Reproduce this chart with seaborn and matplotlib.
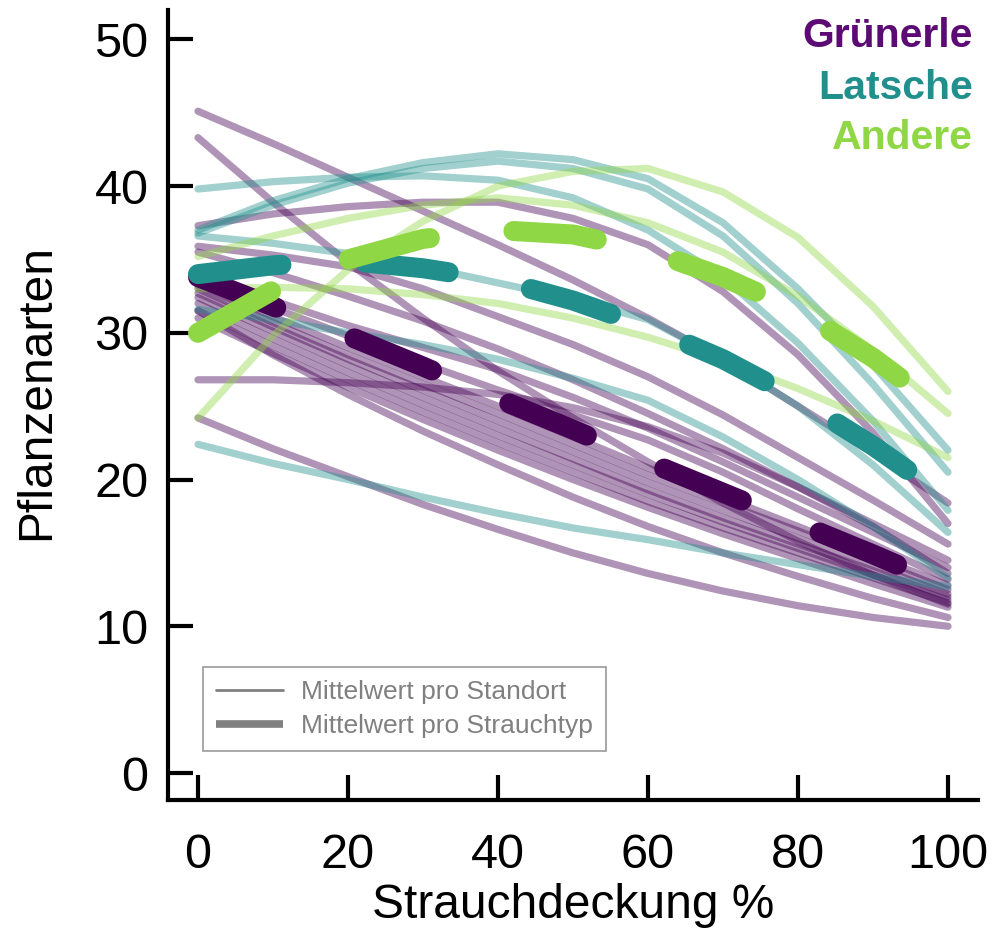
import matplotlib
matplotlib.use("Agg")
import matplotlib.pyplot as plt
import seaborn as sns
import pandas as pd
from matplotlib.lines import Line2D

# ---------------- data ----------------
x_points = [0, 10, 20, 30, 40, 50, 60, 70, 80, 90, 100]
types = ["Grünerle", "Latsche", "Andere"]

# per-site curves (values read at x_points)
gruenerle_sites = [
    [45.1, 42.9, 40.6, 38.3, 36.0, 33.6, 31.0, 28.2, 25.0, 21.8, 18.4],
    [43.3, 38.9, 34.8, 31.0, 27.4, 24.2, 21.2, 18.4, 15.8, 13.5, 11.5],
    [37.3, 38.1, 38.6, 38.9, 38.9, 37.8, 36.0, 32.8, 28.5, 23.2, 17.0],
    [35.9, 35.3, 34.5, 33.0, 31.1, 29.2, 27.0, 24.4, 21.5, 18.6, 15.6],
    [35.5, 34.1, 32.5, 30.8, 28.9, 26.8, 24.5, 22.1, 19.5, 17.0, 14.5],
    [33.8, 32.2, 30.5, 29.0, 27.5, 25.6, 23.5, 21.2, 18.8, 16.4, 14.0],
    [33.5, 31.7, 29.8, 27.9, 26.1, 24.4, 22.7, 20.5, 18.0, 15.6, 13.2],
    [33.2, 31.1, 29.0, 27.0, 25.0, 22.9, 20.8, 18.8, 16.8, 14.8, 12.8],
    [33.0, 30.7, 28.5, 26.5, 24.5, 22.4, 20.3, 18.4, 16.5, 14.5, 12.5],
    [32.7, 30.4, 28.2, 26.1, 24.0, 21.9, 19.8, 17.9, 16.0, 14.1, 12.2],
    [32.4, 30.1, 27.8, 25.6, 23.5, 21.4, 19.3, 17.4, 15.6, 13.8, 12.0],
    [32.0, 29.6, 27.3, 25.1, 23.0, 21.0, 19.0, 17.1, 15.3, 13.5, 11.8],
    [31.5, 29.1, 26.8, 24.6, 22.5, 20.5, 18.5, 16.7, 15.0, 13.3, 11.6],
    [31.0, 28.6, 26.3, 24.1, 22.0, 20.0, 18.1, 16.3, 14.6, 12.9, 11.3],
    [26.8, 26.8, 26.6, 26.3, 25.8, 24.9, 23.6, 21.8, 19.5, 16.8, 13.6],
    [24.2, 22.1, 20.2, 18.3, 16.6, 15.0, 13.6, 12.4, 11.4, 10.6, 10.0],
    [31.5, 28.5, 25.8, 23.3, 21.0, 18.8, 16.8, 15.0, 13.4, 11.9, 10.6],
]
latsche_sites = [
    [39.8, 40.3, 40.6, 40.7, 40.4, 39.2, 37.0, 33.8, 29.3, 24.0, 17.9],
    [37.0, 39.0, 40.5, 41.6, 42.2, 41.8, 40.5, 37.5, 33.0, 27.8, 22.0],
    [36.8, 38.7, 40.2, 41.2, 41.7, 41.2, 39.8, 36.6, 32.0, 26.5, 20.5],
    [36.6, 36.1, 35.4, 34.5, 33.4, 32.3, 30.9, 28.2, 25.0, 21.0, 16.4],
    [31.6, 30.9, 30.0, 29.2, 28.2, 26.9, 25.4, 22.9, 20.0, 16.8, 13.3],
    [22.4, 21.1, 20.0, 18.8, 17.7, 16.7, 15.9, 15.0, 14.2, 13.4, 12.7],
]
andere_sites = [
    [24.2, 29.8, 34.3, 37.6, 40.0, 41.0, 41.2, 39.6, 36.5, 31.8, 26.0],
    [35.2, 36.6, 37.8, 38.7, 39.2, 38.7, 37.5, 35.5, 32.5, 28.8, 24.5],
    [33.0, 33.1, 33.0, 32.6, 32.0, 31.0, 29.7, 28.1, 26.2, 24.0, 21.5],
]

# mean per shrub type
mean_gruenerle = [33.8, 31.8, 29.8, 27.7, 25.5, 23.4, 21.2, 19.1, 17.0, 14.9, 12.7]
mean_latsche = [34.0, 34.6, 34.9, 34.4, 33.6, 32.2, 30.4, 28.2, 25.5, 22.3, 18.7]
mean_andere = [30.0, 32.9, 35.0, 36.4, 37.0, 36.7, 35.6, 33.8, 31.5, 28.3, 24.5]

x_ticks = [0, 20, 40, 60, 80, 100]
y_ticks = [0, 10, 20, 30, 40, 50]
legend_labels = ["Mittelwert pro Standort", "Mittelwert pro Strauchtyp"]

# ---------------- styles ----------------
line_colors = {"Grünerle": "#440154", "Latsche": "#21908C", "Andere": "#8FD744"}
label_colors = {"Grünerle": "#5C0A74", "Latsche": "#21908C", "Andere": "#8FD744"}

sns.set_style("ticks")
plt.rcParams["font.family"] = ["Liberation Sans", "DejaVu Sans"]

# ---------------- build tables ----------------
rows = []
for t, sites in zip(types, [gruenerle_sites, latsche_sites, andere_sites]):
    for i, vals in enumerate(sites):
        for xv, yv in zip(x_points, vals):
            rows.append({"type": t, "site": f"{t}_{i}", "x": xv, "y": yv})
df_sites = pd.DataFrame(rows)

rows = []
for t, vals in zip(types, [mean_gruenerle, mean_latsche, mean_andere]):
    for xv, yv in zip(x_points, vals):
        rows.append({"type": t, "x": xv, "y": yv})
df_means = pd.DataFrame(rows)

# ---------------- figure ----------------
fig = plt.figure(figsize=(9.98, 9.34), dpi=100)
ax = fig.add_axes([168 / 998, 1 - 800 / 934, (978 - 168) / 998, (800 - 10) / 934])

sns.lineplot(data=df_sites, x="x", y="y", hue="type", hue_order=types,
             units="site", estimator=None, palette=line_colors,
             lw=5.2, alpha=0.42, legend=False, ax=ax,
             solid_capstyle="round", solid_joinstyle="round")

sns.lineplot(data=df_means, x="x", y="y", hue="type", hue_order=types,
             estimator=None, palette=line_colors,
             lw=14.4, linestyle=(0, (4.2, 4.2)), legend=False, ax=ax,
             dash_capstyle="round", dash_joinstyle="round")

ax.set_xlim(-4, 104)
ax.set_ylim(-1.84, 52.0)
ax.set_xticks(x_ticks)
ax.set_yticks(y_ticks)

for s in ["top", "right"]:
    ax.spines[s].set_visible(False)
for s in ["left", "bottom"]:
    ax.spines[s].set_linewidth(3)
    ax.spines[s].set_color("black")
    ax.spines[s].set_capstyle("projecting")

ax.tick_params(axis="both", direction="in", length=18, width=3,
               labelsize=35, color="black", labelcolor="black")
ax.tick_params(axis="y", pad=14)
ax.tick_params(axis="x", pad=24)

ax.set_xlabel("Strauchdeckung %", fontsize=34.5, color="black")
ax.set_ylabel("Pflanzenarten", fontsize=34.5, color="black")
ax.xaxis.label.set_va("center")
ax.xaxis.set_label_coords(0.5, (800 - 906) / 790)
ax.yaxis.label.set_va("center")
ax.yaxis.set_label_coords((37 - 168) / 810, (800 - 392) / 790)

# legend for line types
handles = [Line2D([0], [0], color="#808080", lw=2),
           Line2D([0], [0], color="#808080", lw=5.5, solid_capstyle="butt")]
leg = ax.legend(handles, legend_labels, loc="upper left",
                bbox_to_anchor=((203 - 168) / 810, (800 - 667) / 790),
                borderaxespad=0, frameon=True, fancybox=False,
                fontsize=19, labelcolor="#808080", handlelength=2.55,
                handletextpad=0.65, labelspacing=0.38, borderpad=0.5)
leg.get_frame().set_edgecolor("#808080")
leg.get_frame().set_linewidth(1.2)

# shrub-type labels
for t, yb in zip(types, [47, 99, 149]):
    fig.text(973 / 998, 1 - yb / 934, t, color=label_colors[t], fontsize=29.5,
             fontweight="bold", ha="right", va="baseline")

fig.savefig("out.png", dpi=100)
